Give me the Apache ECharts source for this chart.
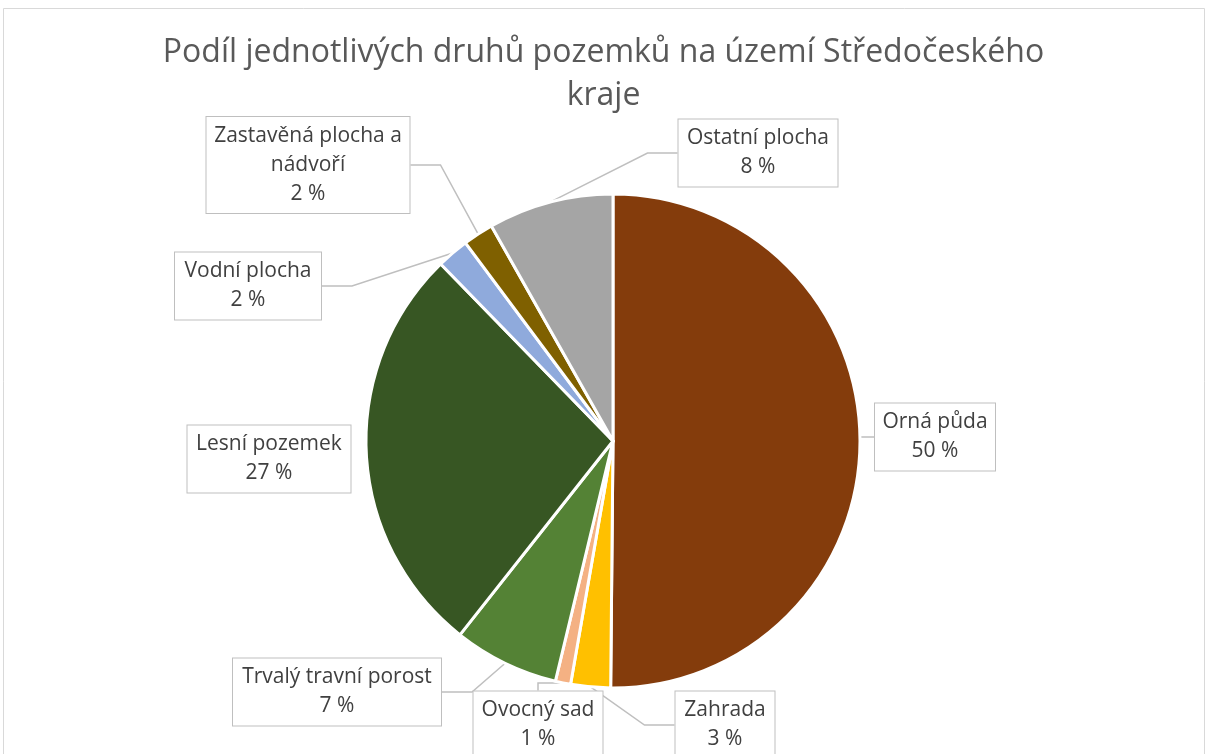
<!DOCTYPE html>
<html>
<head>
<meta charset="utf-8">
<script src="https://cdn.jsdelivr.net/npm/echarts@6/dist/echarts.min.js"></script>
<style>
  html, body { margin: 0; padding: 0; background: #fff; }
  #chart { width: 1207px; height: 754px; }
</style>
</head>
<body>
<div id="chart"></div>
<script>
// Data (shares in %)
const categories = [
  'Orná půda',
  'Zahrada',
  'Ovocný sad',
  'Trvalý travní porost',
  'Lesní pozemek',
  'Vodní plocha',
  'Zastavěná plocha a nádvoří',
  'Ostatní plocha'
]
const shares = [50.2, 2.6, 1.0, 6.9, 27.1, 2.1, 2.0, 8.2]
const colors = ['#843C0C', '#FFC000', '#F4B183', '#548235', '#375623', '#8FAADC', '#7F6000', '#A5A5A5']
const titleLines = ['Podíl jednotlivých druhů pozemků na území Středočeského', 'kraje']

// Callout boxes: centre and inner width – layout only
const boxes = [
  { x: 935, y: 437, w: 110 },
  { x: 725, y: 725, w: 89 },
  { x: 538, y: 725, w: 119 },
  { x: 337, y: 692, w: 198 },
  { x: 269, y: 459, w: 153, noLine: true },
  { x: 248, y: 286, w: 136 },
  { x: 308, y: 165, w: 193 },
  { x: 758, y: 153, w: 149 }
]

// long names wrap before their last word, like the callouts in the picture
const wrapName = name => {
  if (name.length <= 20) return name
  const cut = name.lastIndexOf(' ')
  return name.slice(0, cut) + '\n' + name.slice(cut + 1)
}

const chart = echarts.init(document.getElementById('chart'))

const titleStyle = {
  fontFamily: 'Open Sans',
  fontSize: 32,
  fontWeight: 'normal',
  color: '#595959'
}

chart.setOption({
  backgroundColor: '#fff',
  animation: false,
  graphic: [{
    type: 'rect',
    shape: { x: 3.5, y: 8.5, width: 1201, height: 800 },
    style: { fill: 'none', stroke: '#d9d9d9', lineWidth: 1 },
    silent: true
  }],
  title: titleLines.map((t, i) => ({
    text: t,
    left: 'center',
    top: 37 + i * 43,
    padding: 0,
    textStyle: titleStyle
  })),
  series: [{
    type: 'pie',
    center: [613, 441],
    radius: 247,
    startAngle: 90,
    clockwise: true,
    itemStyle: { borderColor: '#fff', borderWidth: 3 },
    label: {
      show: true,
      fontFamily: 'Open Sans',
      fontSize: 21,
      color: '#404040',
      lineHeight: 29,
      align: 'center',
      backgroundColor: '#fff',
      borderColor: '#bfbfbf',
      borderWidth: 1,
      padding: [8, 5, 1, 5],
      overflow: 'none',
      formatter: p => wrapName(p.name) + '\n' + Math.round(p.percent) + ' %'
    },
    labelLine: {
      show: true,
      lineStyle: { color: '#bfbfbf', width: 1.5 }
    },
    labelLayout: p => ({
      x: boxes[p.dataIndex].x,
      y: boxes[p.dataIndex].y,
      align: 'center',
      verticalAlign: 'middle'
    }),
    data: categories.map((name, i) => ({
      name,
      value: shares[i],
      itemStyle: { color: colors[i] },
      label: { width: boxes[i].w },
      labelLine: { show: !boxes[i].noLine }
    }))
  }]
})
</script>
</body>
</html>
